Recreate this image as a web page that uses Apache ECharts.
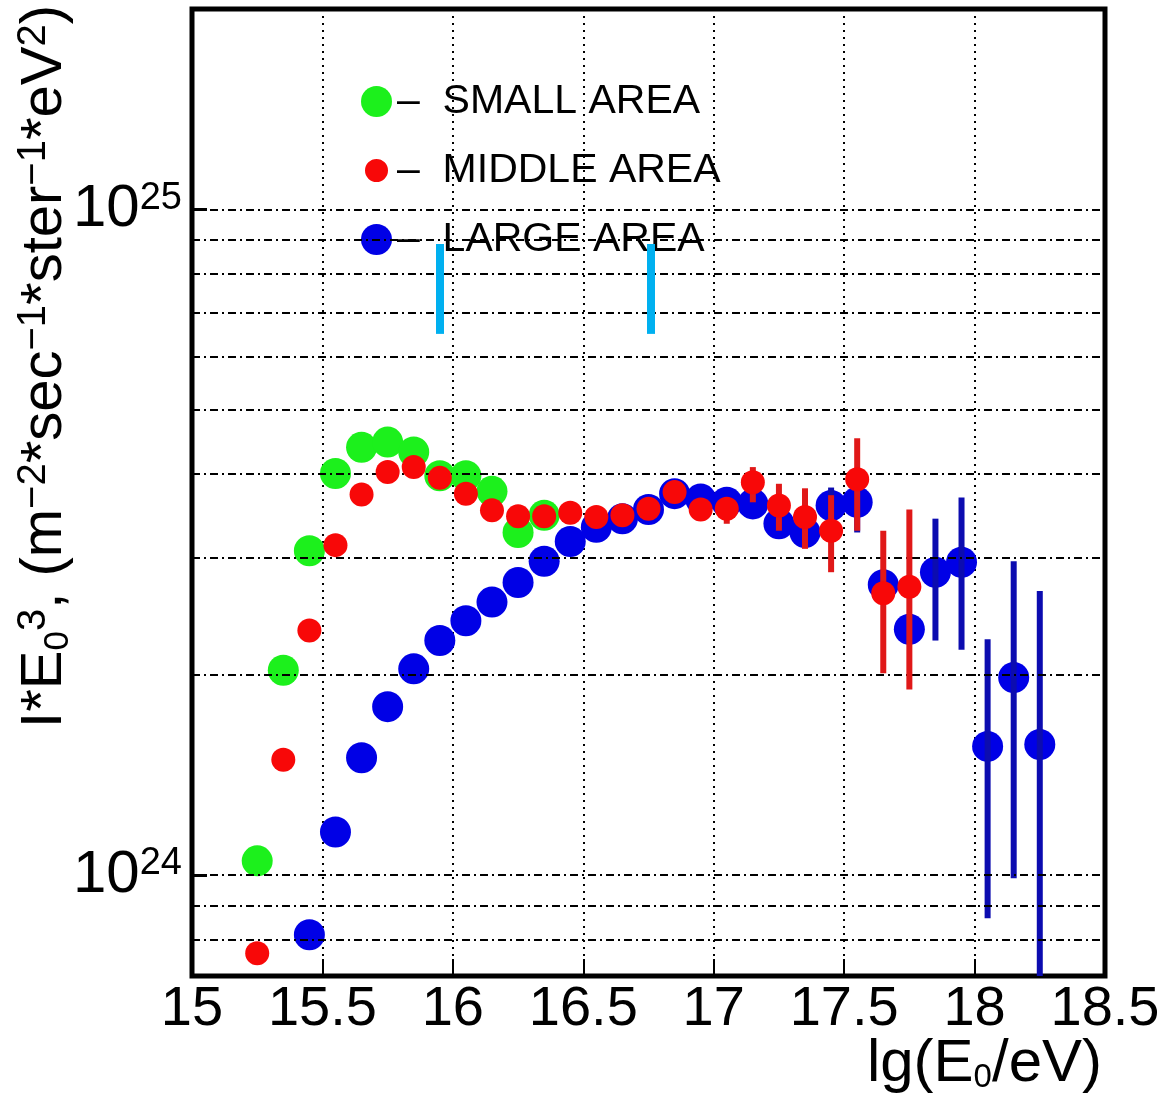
<!DOCTYPE html>
<html>
<head>
<meta charset="utf-8">
<script src="https://cdn.jsdelivr.net/npm/echarts@6/dist/echarts.min.js"></script>
<style>
html,body{margin:0;padding:0;background:#fff;}
#chart{width:1171px;height:1099px;}
</style>
</head>
<body>
<div id="chart"></div>
<script>
// ---- data ----
const greenX = [15.25,15.35,15.45,15.55,15.65,15.75,15.85,15.95,16.05,16.15,16.25,16.35];
const greenY = [1.05e24,2.03e24,3.07e24,4.01e24,4.39e24,4.47e24,4.32e24,3.98e24,3.98e24,3.77e24,3.27e24,3.47e24];

const redX = [15.25,15.35,15.45,15.55,15.65,15.75,15.85,15.95,16.05,16.15,16.25,16.35,16.45,16.55,16.65,16.75,16.85,16.95,17.05,17.15,17.25,17.35,17.45,17.55,17.65,17.75];
const redY = [7.63e23,1.49e24,2.33e24,3.13e24,3.73e24,4.03e24,4.10e24,3.95e24,3.74e24,3.53e24,3.46e24,3.46e24,3.50e24,3.45e24,3.47e24,3.55e24,3.76e24,3.54e24,3.55e24,3.89e24,3.59e24,3.45e24,3.29e24,3.93e24,2.65e24,2.71e24];

const blueX = [15.45,15.55,15.65,15.75,15.85,15.95,16.05,16.15,16.25,16.35,16.45,16.55,16.65,16.75,16.85,16.95,17.05,17.15,17.25,17.35,17.45,17.55,17.65,17.75,17.85,17.95,18.05,18.15,18.25];
const blueY = [8.13e23,1.16e24,1.50e24,1.79e24,2.04e24,2.25e24,2.41e24,2.57e24,2.75e24,2.96e24,3.17e24,3.33e24,3.43e24,3.54e24,3.74e24,3.67e24,3.63e24,3.61e24,3.37e24,3.27e24,3.59e24,3.63e24,2.73e24,2.34e24,2.85e24,2.95e24,1.56e24,1.98e24,1.57e24];

const redErrX  = [17.05,17.15,17.25,17.35,17.45,17.55,17.65,17.75];
const redErrLo = [3.37e24,3.63e24,3.29e24,3.09e24,2.85e24,3.29e24,2.01e24,1.90e24];
const redErrHi = [3.68e24,4.10e24,3.87e24,3.81e24,3.72e24,4.53e24,3.29e24,3.54e24];

const blueErrX  = [17.45,17.55,17.85,17.95,18.05,18.15,18.25];
const blueErrLo = [3.35e24,3.27e24,2.25e24,2.18e24,8.61e23,9.89e23,5.0e23];
const blueErrHi = [3.82e24,4.03e24,3.43e24,3.69e24,2.26e24,2.96e24,2.67e24];

const kneeX  = [15.95,16.76];
const kneeLo = 6.5e24;
const kneeHi = 8.87e24;

const gridY = [8e23,9e23,1e24,2e24,3e24,4e24,5e24,6e24,7e24,8e24,9e24,1e25];

const seriesNames = ['SMALL AREA','MIDDLE AREA','LARGE AREA'];
const xTicks = {min:15, max:18.5, step:0.5};
const yRange = {min:7.05e23, max:2e25};

// ---- build ----
const FONT = "'Liberation Sans', Arial, Helvetica, sans-serif";
const zip = (xs, ys) => xs.map((x,i)=>[x, ys[i]]);
const zip3 = (xs, a, b) => xs.map((x,i)=>[x, a[i], b[i]]);

function errRender(color){
  return function(params, api){
    const x = api.value(0), lo = api.value(1), hi = api.value(2);
    const p1 = api.coord([x, lo]), p2 = api.coord([x, hi]);
    return {type:'line', shape:{x1:p1[0], y1:p1[1], x2:p2[0], y2:p2[1]},
            style:{stroke:color, lineWidth:6}};
  };
}

const chart = echarts.init(document.getElementById('chart'), null, {renderer:'canvas'});
const option = {
  animation:false,
  backgroundColor:'#fff',
  grid:{left:192, right:66, top:9, bottom:123, show:true, borderColor:'#000', borderWidth:5, backgroundColor:'transparent',
        containLabel:false, outerBoundsMode:'none'},
  legend:{
    data:[
      {name:seriesNames[0], icon:'circle'},
      {name:seriesNames[1], icon:'circle', itemStyle:{borderColor:'#fff', borderWidth:8}},
      {name:seriesNames[2], icon:'circle'}
    ],
    orient:'vertical', left:352, top:76, itemWidth:31, itemHeight:31, itemGap:28,
    formatter: n => '\u2013  ' + n,
    textStyle:{fontFamily:FONT, fontSize:41, color:'#000'},
    selectedMode:false
  },
  xAxis:{
    type:'value', min:xTicks.min, max:xTicks.max, interval:xTicks.step,
    axisLine:{show:false},
    axisTick:{show:true, inside:true, length:17, lineStyle:{color:'#000', width:2}},
    axisLabel:{fontFamily:FONT, fontSize:56, color:'#000', margin:6},
    splitLine:{show:true, lineStyle:{color:'#000', width:2, type:[2,5]}},
    name:'lg(E{sub|0}/eV)', nameLocation:'end', nameGap:-3, nameMoveOverlap:false,
    nameTextStyle:{fontFamily:FONT, fontSize:60, color:'#000', align:'right', verticalAlign:'top', padding:[58,0,0,0], lineHeight:60,
      rich:{sub:{fontFamily:FONT, fontSize:33, lineHeight:30, verticalAlign:'bottom', color:'#000'}}}
  },
  yAxis:{
    type:'log', logBase:10, min:yRange.min, max:yRange.max,
    axisLine:{show:false},
    axisTick:{show:true, inside:true, length:15, lineStyle:{color:'#000', width:3}},
    axisLabel:{
      margin:10, showMinLabel:false, showMaxLabel:false,
      formatter: v => { const e = Math.log10(v); return Math.abs(e-Math.round(e))<1e-6 ? '{b|10}{s|'+Math.round(e)+'}' : ''; },
      rich:{
        b:{fontFamily:FONT, fontSize:60, lineHeight:60, color:'#000'},
        s:{fontFamily:FONT, fontSize:38, lineHeight:12, verticalAlign:'top', color:'#000'}
      }
    },
    splitLine:{show:false},
    name:'I*E{sub|0}{sup|3}, (m{sup|\u22122}*sec{sup|\u22121}*ster{sup|\u22121}*eV{sup|2})',
    nameLocation:'end', nameRotate:90, nameGap:4, nameMoveOverlap:false,
    nameTextStyle:{fontFamily:FONT, fontSize:58, color:'#000', align:'right', verticalAlign:'bottom', lineHeight:62, padding:[0,0,116,0],
      rich:{
        sup:{fontFamily:FONT, fontSize:40, lineHeight:14, verticalAlign:'top', color:'#000'},
        sub:{fontFamily:FONT, fontSize:35, lineHeight:30, verticalAlign:'bottom', color:'#000'}
      }}
  },
  series:[
    {
      type:'line', name:'grid', data:[], z:1, silent:true,
      markLine:{silent:true, symbol:'none', label:{show:false}, animation:false,
        lineStyle:{color:'#000', width:2, type:[8,4,2,4]},
        data: gridY.map(v=>({yAxis:v}))}
    },
    {
      type:'line', name:'knees', data:[], z:6, silent:true,
      markLine:{silent:true, symbol:'none', label:{show:false}, animation:false,
        lineStyle:{color:'#00b0f0', width:8, type:'solid'},
        data: kneeX.map(x=>[{coord:[x, kneeLo]},{coord:[x, kneeHi]}])}
    },
    {type:'scatter', name:seriesNames[2], data:zip(blueX, blueY), symbol:'circle', symbolSize:31, z:2,
      itemStyle:{color:'#0000e6', opacity:1}},
    {type:'custom', name:'blueErr', data:zip3(blueErrX, blueErrLo, blueErrHi), renderItem:errRender('#0c0cb0'),
      encode:{x:0, y:[1,2]}, clip:true, z:3},
    {type:'scatter', name:seriesNames[0], data:zip(greenX, greenY), symbol:'circle', symbolSize:31, z:4,
      itemStyle:{color:'#1cf01c', opacity:1}},
    {type:'scatter', name:seriesNames[1], data:zip(redX, redY), symbol:'circle', symbolSize:24, z:5,
      itemStyle:{color:'#f80808', opacity:1}},
    {type:'custom', name:'redErr', data:zip3(redErrX, redErrLo, redErrHi), renderItem:errRender('#e01818'),
      encode:{x:0, y:[1,2]}, clip:true, z:5}
  ]
};
chart.setOption(option);
</script>
</body>
</html>
